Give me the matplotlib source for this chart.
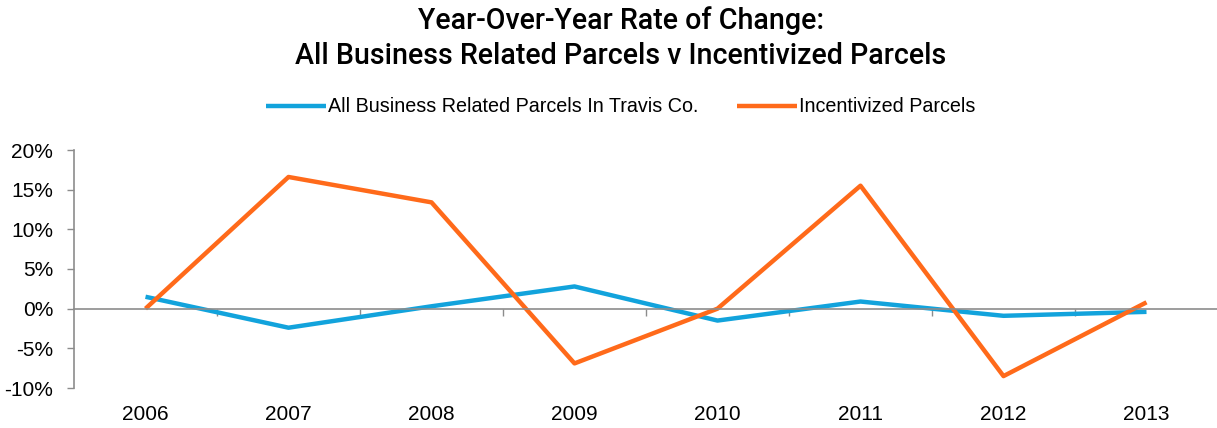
import matplotlib
matplotlib.use("Agg")
import matplotlib.pyplot as plt
import matplotlib.transforms as mtransforms
from matplotlib.ticker import FuncFormatter

years = ["2006", "2007", "2008", "2009", "2010", "2011", "2012", "2013"]
all_business = [1.5, -2.4, 0.3, 2.8, -1.5, 0.9, -0.9, -0.4]
incentivized = [0.0, 16.6, 13.4, -6.9, 0.0, 15.5, -8.5, 0.8]
yticks = [-10, -5, 0, 5, 10, 15, 20]

BLUE = "#12A3DC"
ORANGE = "#FF6A1A"
GREY = "#8C8C8C"

plt.rcParams["font.family"] = ["Liberation Sans", "DejaVu Sans"]

fig = plt.figure(figsize=(12.17, 4.28), dpi=100)
ax = fig.add_axes([74 / 1217, 1 - 388 / 428, (1218 - 74) / 1217, (388 - 150) / 428])

x = list(range(len(years)))
l1, = ax.plot(x, all_business, color=BLUE, lw=3.2, solid_capstyle="butt",
              label="All Business Related Parcels In Travis Co.")
l2, = ax.plot(x, incentivized, color=ORANGE, lw=3.2, solid_capstyle="butt",
              label="Incentivized Parcels")

ax.set_xlim(-0.5, len(years) - 0.5)
ax.set_ylim(-10, 20)
ax.set_yticks(yticks)
ax.yaxis.set_major_formatter(FuncFormatter(lambda v, p: f"{int(v)}%"))
ax.tick_params(axis="y", direction="out", length=5, width=1, color=GREY,
               labelsize=15, pad=10, labelcolor="black")

for s in ["top", "right"]:
    ax.spines[s].set_visible(False)
ax.spines["left"].set_color(GREY)
ax.spines["left"].set_linewidth(1.2)
ax.spines["bottom"].set_position(("data", 0))
ax.spines["bottom"].set_color(GREY)
ax.spines["bottom"].set_linewidth(1.2)
ax.set_xticks([i + 0.5 for i in range(len(years))])
ax.tick_params(axis="x", direction="out", length=5, width=1, color=GREY,
               labelbottom=False)
ax.set_zorder(1)
ax.patch.set_visible(False)

trans = mtransforms.blended_transform_factory(ax.transData, ax.transAxes)
for i, yr in enumerate(years):
    ax.text(i, -0.11, yr, transform=trans, ha="center", va="center", fontsize=15)

title_font = dict(family=["Roboto", "Liberation Sans"], weight="medium")
fig.text(0.51, 1 - 21 / 428, "Year-Over-Year Rate of Change:", ha="center", va="center",
         fontsize=20.6, **title_font)
fig.text(0.51, 1 - 56 / 428, "All Business Related Parcels v Incentivized Parcels",
         ha="center", va="center", fontsize=20.6, **title_font)

leg = fig.legend(handles=[l1, l2], loc="center", bbox_to_anchor=(0.51, 1 - 107 / 428),
                 ncol=2, frameon=False, fontsize=14.2, handlelength=3.0, handletextpad=0.1,
                 columnspacing=2.0)

fig.savefig("out.png", dpi=100)
